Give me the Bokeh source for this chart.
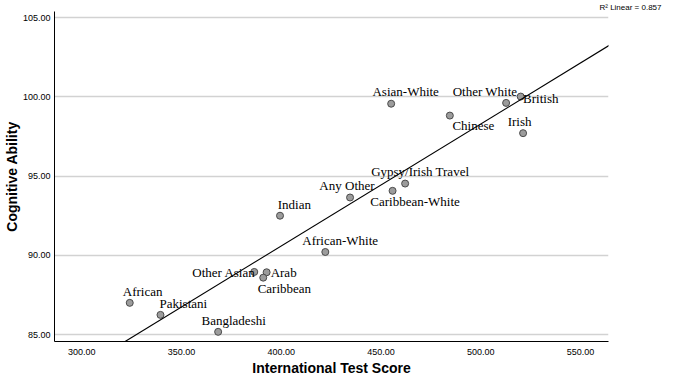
import numpy as np
from bokeh.plotting import figure
from bokeh.models import (ColumnDataSource, FixedTicker, NumeralTickFormatter,
                          Range1d, Title, Slope)
from bokeh.core.properties import value
from bokeh.embed import file_html
from bokeh.resources import INLINE

# ---- data ----
groups = ["African", "Pakistani", "Bangladeshi", "Other Asian", "Arab", "Caribbean",
          "Indian", "African-White", "Any Other", "Caribbean-White",
          "Gypsy/Irish Travel", "Asian-White", "Chinese", "Other White",
          "British", "Irish"]
test_score = [324.1, 339.5, 368.4, 386.5, 392.7, 391.0, 399.4, 422.1, 434.5,
              455.8, 462.1, 455.1, 484.5, 512.7, 520.0, 521.2]
cognitive = [87.0, 86.24, 85.17, 88.95, 88.93, 88.59, 92.5, 90.21, 93.65,
             94.07, 94.53, 99.57, 98.82, 99.62, 100.02, 97.71]
x_ticks = [300, 350, 400, 450, 500, 550]
y_ticks = [85, 90, 95, 100, 105]
r2_text = "R\u00b2 Linear = 0.857"

# label placement (pixels, relative to each point; style only)
label_dx = [-7, -1, -16.6, -62, 4, -5.6, -2.3, -23, -30.7, -22.3, -34, -18.7,
            2.6, -53.4, 2.4, -15.4]
label_dy = [-11.6, -11.6, -11.3, 0.5, 0, 10.7, -11, -11.3, -11.7, 11, -12, -12,
            10.3, -11, 2, -11.6]

X0, X1 = 286.4, 564.0
Y0, Y1 = 84.56, 105.39

# ---- figure ----
p = figure(width=662, height=375, output_backend="svg", toolbar_location=None,
           x_range=Range1d(X0, X1), y_range=Range1d(Y0, Y1),
           min_border_left=30, min_border_right=54, min_border_top=0,
           min_border_bottom=0)
p.outline_line_color = None
p.background_fill_color = "white"

p.xgrid.grid_line_color = None
p.ygrid.grid_line_color = "#d2d2d2"
p.ygrid.grid_line_width = 1.5

for ax in (p.xaxis[0], p.yaxis[0]):
    ax.axis_line_color = "black"
    ax.axis_line_width = 1
    ax.major_tick_in = 0
    ax.major_tick_out = 0
    ax.minor_tick_line_color = None
    ax.major_label_text_font = "Liberation Sans"
    ax.major_label_text_font_size = "9px"
    ax.major_label_text_color = "black"
    ax.formatter = NumeralTickFormatter(format="0.00")
    ax.axis_label_text_font = "Liberation Sans"
    ax.axis_label_text_font_style = "bold"
    ax.axis_label_text_font_size = "14px"
    ax.axis_label_text_color = "black"
p.xaxis.ticker = FixedTicker(ticks=x_ticks)
p.yaxis.ticker = FixedTicker(ticks=y_ticks)
p.xaxis.major_label_standoff = 7
p.yaxis.major_label_standoff = 4
p.yaxis.axis_label_standoff = 0
p.yaxis.axis_label = "Cognitive Ability"

# x-axis title as a title panel under the axis
p.add_layout(Title(text="International Test Score", align="center", standoff=0,
                   text_font="Liberation Sans", text_font_style="bold",
                   text_font_size="14px", text_color="black",
                   vertical_align="bottom"), "below")

# fit line computed from the data
slope, intercept = np.polyfit(test_score, cognitive, 1)
p.add_layout(Slope(gradient=slope, y_intercept=intercept, line_color="black",
                   line_width=1.1))

src = ColumnDataSource(dict(x=test_score, y=cognitive, name=groups,
                            dx=label_dx, dy=label_dy))
p.scatter("x", "y", source=src, size=7, fill_color="#9c9c9c",
          line_color="#4a4a4a", line_width=1)
p.text("x", "y", text="name", source=src, x_offset="dx", y_offset="dy",
       text_font=value("Liberation Serif"), text_font_size="13px",
       text_align="left", text_baseline="middle", text_color="black")

# R^2 note above the top-right corner
p.add_layout(Title(text=r2_text, align="right", offset=-53, standoff=0,
                   text_font="Liberation Sans", text_font_style="normal",
                   text_font_size="8px", text_color="black"), "above")

open("out.html", "w").write(file_html(p, INLINE))
